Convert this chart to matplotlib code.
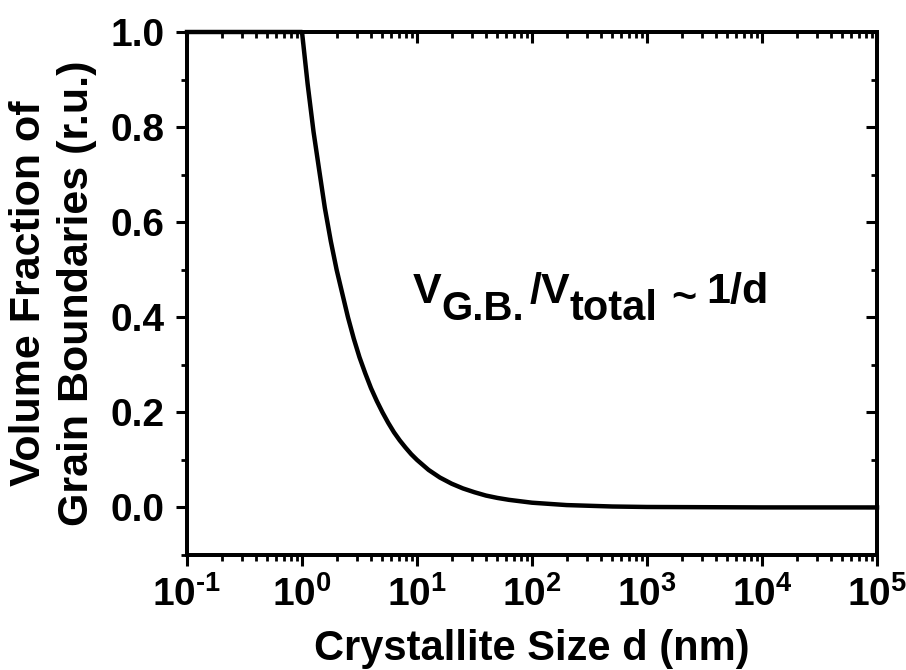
import matplotlib
matplotlib.use("Agg")
import matplotlib.pyplot as plt
from matplotlib.transforms import IdentityTransform
from matplotlib.ticker import FixedLocator, FixedFormatter, LogLocator, MultipleLocator, NullFormatter

plt.rcParams['font.family'] = ['Liberation Sans', 'DejaVu Sans']
plt.rcParams['font.weight'] = 'bold'
plt.rcParams['mathtext.fontset'] = 'custom'
plt.rcParams['mathtext.rm'] = 'Liberation Sans:bold'
plt.rcParams['mathtext.it'] = 'Liberation Sans:bold'
plt.rcParams['mathtext.bf'] = 'Liberation Sans:bold'

# Data
crystallite_size_nm = [0.1, 1.0, 1.12, 1.26, 1.41, 1.58, 1.78, 2.0, 2.24, 2.51, 2.82,
                       3.16, 3.55, 3.98, 4.47, 5.01, 5.62, 6.31, 7.08, 7.94, 8.91,
                       10.0, 12.6, 15.8, 20.0, 25.1, 31.6, 39.8, 50.1, 63.1, 79.4,
                       100.0, 200.0, 500.0, 1000.0, 10000.0, 100000.0]
volume_fraction = [1.0, 1.0, 0.89, 0.79, 0.71, 0.63, 0.56, 0.50, 0.45, 0.40, 0.355,
                   0.316, 0.282, 0.251, 0.224, 0.200, 0.178, 0.158, 0.141, 0.126, 0.112,
                   0.100, 0.079, 0.063, 0.050, 0.040, 0.032, 0.025, 0.020, 0.016, 0.013,
                   0.010, 0.005, 0.002, 0.001, 0.0001, 0.00001]

x_tick_values = [1e-1, 1e0, 1e1, 1e2, 1e3, 1e4, 1e5]
x_tick_labels = [r'$10^{\text{-1}}$', r'$10^{0}$', r'$10^{1}$', r'$10^{2}$',
                 r'$10^{3}$', r'$10^{4}$', r'$10^{5}$']
y_tick_values = [0.0, 0.2, 0.4, 0.6, 0.8, 1.0]
y_tick_labels = ['0.0', '0.2', '0.4', '0.6', '0.8', '1.0']

# annotation pieces: (text, is_subscript)
annotation_parts = [('V', False), ('G.B.', True), ('/', False), ('V', False),
                    ('total', True), ('~', False), ('1/d', False)]

fig = plt.figure(figsize=(9.06, 6.70), dpi=100)
ax = fig.add_axes([187/906, 1-555/670, (877-187)/906, (555-32)/670])

ax.plot(crystallite_size_nm, volume_fraction, color='black', lw=3.2, clip_on=False, zorder=3)
ax.set_xscale('log')
ax.set_xlim(1e-1, 1e5)
ax.set_ylim(-0.1, 1.0)

ax.xaxis.set_major_locator(FixedLocator(x_tick_values))
ax.xaxis.set_major_formatter(FixedFormatter(x_tick_labels))
ax.xaxis.set_minor_locator(LogLocator(base=10, subs=range(2, 10), numticks=20))
ax.xaxis.set_minor_formatter(NullFormatter())
ax.yaxis.set_major_locator(FixedLocator(y_tick_values))
ax.yaxis.set_major_formatter(FixedFormatter(y_tick_labels))
ax.yaxis.set_minor_locator(MultipleLocator(0.1))

for sp in ax.spines.values():
    sp.set_linewidth(2.6)

ax.tick_params(which='major', direction='out', length=8, width=2.2)
ax.tick_params(which='minor', direction='out', length=4, width=2.0)
ax.tick_params(axis='y', which='major', pad=8, labelsize=28)
ax.tick_params(axis='x', which='major', pad=7, labelsize=28)

# top / right inward ticks
axt = ax.twiny()
axt.set_xscale('log')
axt.set_xlim(ax.get_xlim())
axt.xaxis.set_major_locator(FixedLocator(x_tick_values))
axt.xaxis.set_minor_locator(LogLocator(base=10, subs=range(2, 10), numticks=20))
axt.tick_params(which='major', direction='in', length=8, width=2.2, labeltop=False)
axt.tick_params(which='minor', direction='in', length=4, width=2.0)
axt.xaxis.set_major_formatter(NullFormatter())
axt.xaxis.set_minor_formatter(NullFormatter())
axr = ax.twinx()
axr.set_ylim(ax.get_ylim())
axr.yaxis.set_major_locator(FixedLocator(y_tick_values))
axr.yaxis.set_minor_locator(MultipleLocator(0.1))
axr.tick_params(which='major', direction='in', length=8, width=2.2, labelright=False)
axr.tick_params(which='minor', direction='in', length=4, width=2.0)
for a in (axt, axr):
    for sp in a.spines.values():
        sp.set_linewidth(2.6)

ax.set_xlabel('Crystallite Size d (nm)', fontsize=30, fontweight='bold', labelpad=11)
ax.set_ylabel('Volume Fraction of\nGrain Boundaries (r.u.)', fontsize=31,
              fontweight='bold', labelpad=10, linespacing=1.25)

# annotation built piece by piece (subscripts nearly full size, as in the reference)
renderer = fig.canvas.get_renderer()
xd, yd = ax.transData.transform((9.2, 0.429))
gaps = {'/': 5, '~': 14, '1/d': 9}
sizes = {'G.B.': 29, 'total': 30}
drops = {'G.B.': 17, 'total': 17, '~': 7}
for text, is_sub in annotation_parts:
    xd += gaps.get(text, 0)
    t = ax.text(xd, yd - drops.get(text, 0), text, transform=IdentityTransform(),
                fontsize=sizes.get(text, 31), fontweight='bold',
                ha='left', va='baseline')
    bb = t.get_window_extent(renderer)
    xd = bb.x1

fig.savefig('out.png', dpi=100)
